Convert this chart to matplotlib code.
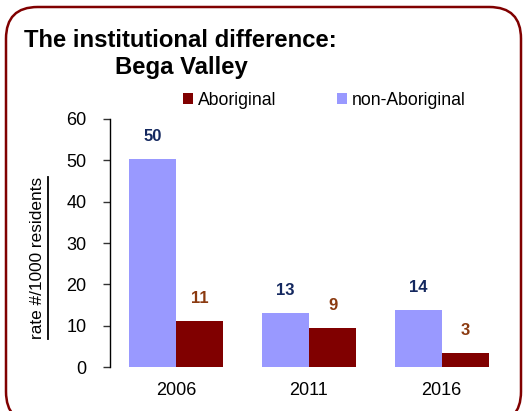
import matplotlib
matplotlib.use("Agg")
import matplotlib.pyplot as plt
import numpy as np
from matplotlib.patches import FancyBboxPatch, Patch
from matplotlib.lines import Line2D

years = ["2006", "2011", "2016"]
non_aboriginal = [50.3, 13.1, 13.8]
aboriginal = [11.1, 9.4, 3.4]
yticks = [0, 10, 20, 30, 40, 50, 60]

C_NON = "#9999FF"
C_AB = "#800000"
LBL_NON = "#14285F"
LBL_AB = "#8B3A10"

NARROW = ["Liberation Sans Narrow", "Liberation Sans", "DejaVu Sans"]
SANS = ["Liberation Sans", "DejaVu Sans"]

W, H = 528, 411
fig = plt.figure(figsize=(W / 100, H / 100), dpi=100)
fig.patch.set_facecolor("white")

# rounded frame
frame = FancyBboxPatch((6 / W, -0.03), (521 - 6) / W, 1 - 7 / H + 0.03,
                       boxstyle="round,pad=0,rounding_size=0.06",
                       transform=fig.transFigure, facecolor="none",
                       edgecolor="#800000", linewidth=1.8,
                       mutation_aspect=W / H, zorder=0)
fig.patches.append(frame)

ax = fig.add_axes([110 / W, 1 - 367 / H, (508 - 110) / W, (367 - 119) / H])
x = np.arange(len(years))
bw = 0.355
b1 = ax.bar(x - bw / 2, non_aboriginal, bw, color=C_NON, zorder=2)
b2 = ax.bar(x + bw / 2, aboriginal, bw, color=C_AB, zorder=2)

for rect, v in zip(b1, non_aboriginal):
    ax.annotate(f"{round(v):d}", (rect.get_x() + rect.get_width() / 2, v),
                xytext=(0, 11), textcoords="offset points", ha="center", va="bottom",
                color=LBL_NON, fontsize=12, fontweight="bold", family=SANS)
for rect, v in zip(b2, aboriginal):
    ax.annotate(f"{round(v):d}", (rect.get_x() + rect.get_width() / 2, v),
                xytext=(0, 11), textcoords="offset points", ha="center", va="bottom",
                color=LBL_AB, fontsize=12, fontweight="bold", family=SANS)

ax.set_xlim(-0.5, 2.5)
ax.set_ylim(0, 60)
ax.set_yticks(yticks)
ax.set_yticklabels([str(t) for t in yticks], family=NARROW, fontsize=13)
ax.set_xticks(x)
ax.set_xticklabels(years, family=NARROW, fontsize=13)
ax.tick_params(axis="x", length=0, pad=11)
ax.tick_params(axis="y", direction="out", length=5, width=1, pad=12, color="#333333")
for s in ["top", "right", "bottom"]:
    ax.spines[s].set_visible(False)
ax.spines["left"].set_linewidth(1)
ax.spines["left"].set_color("black")

# legend
handles = [Patch(facecolor=C_AB, edgecolor="none", label="Aboriginal"),
           Patch(facecolor=C_NON, edgecolor="none", label="non-Aboriginal")]
leg = fig.legend(handles=handles, loc="center left", bbox_to_anchor=(183 / W, 1 - 100 / H),
                 ncol=2, frameon=False, prop={"family": NARROW, "size": 12.7},
                 handlelength=0.55, handleheight=0.55, handletextpad=0.3,
                 columnspacing=3.45, borderpad=0, borderaxespad=0)

# title
fig.text(24 / W, 1 - 47 / H, "The institutional difference:", family=SANS,
         fontweight="bold", fontsize=17.2, ha="left", va="baseline")
fig.text(115 / W, 1 - 74 / H, "Bega Valley", family=SANS,
         fontweight="bold", fontsize=17.2, ha="left", va="baseline")

# y label with underline
yl = fig.text(38 / W, 1 - 258 / H, "rate #/1000 residents", rotation=90,
              family=NARROW, fontsize=12.4, ha="center", va="center")
fig.canvas.draw()
bb = yl.get_window_extent().transformed(fig.transFigure.inverted())
ux = bb.x1 + 2 / W
fig.add_artist(Line2D([ux, ux], [bb.y0, bb.y1], transform=fig.transFigure,
                      color="black", linewidth=1.3))

fig.savefig("out.png", dpi=100)
